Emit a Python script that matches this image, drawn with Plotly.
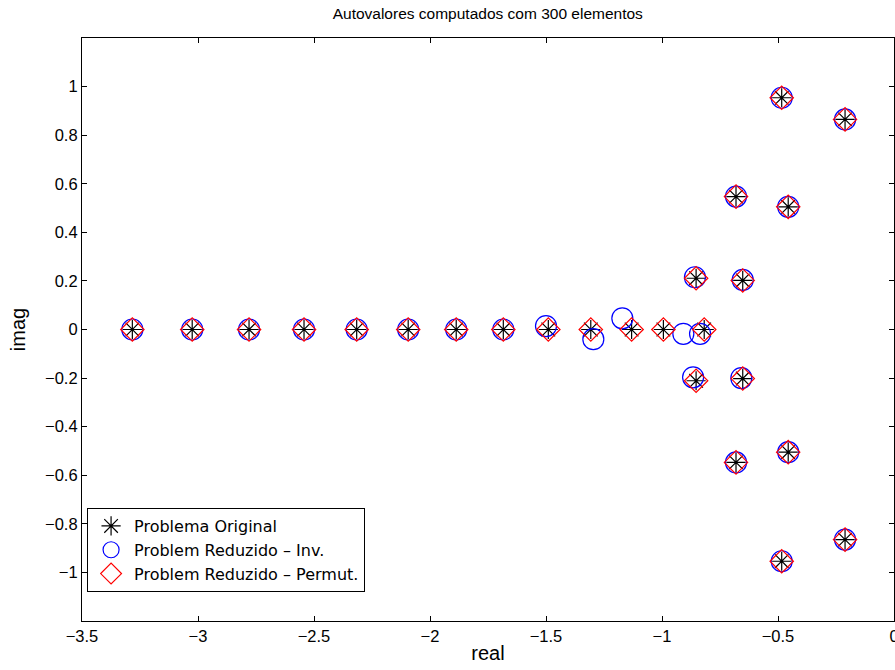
import plotly.graph_objects as go

# Problema Original (eigenvalues)
orig_real = [-3.283, -3.025, -2.780, -2.543, -2.316, -2.094, -1.887, -1.684,
             -1.490, -1.307, -1.131, -0.994, -0.818,
             -0.853, -0.853, -0.652, -0.652, -0.681, -0.681,
             -0.456, -0.456, -0.484, -0.484, -0.211, -0.211]
orig_imag = [0, 0, 0, 0, 0, 0, 0, 0,
             0, 0, 0, 0, 0,
             0.211, -0.211, 0.202, -0.202, 0.547, -0.547,
             0.505, -0.505, 0.954, -0.954, 0.865, -0.865]

# Problem Reduzido - Inv.
inv_real = [-3.283, -3.025, -2.780, -2.543, -2.316, -2.094, -1.887, -1.684,
            -1.500, -1.296, -1.171, -0.908, -0.836,
            -0.858, -0.866, -0.652, -0.658, -0.681, -0.681,
            -0.456, -0.456, -0.484, -0.484, -0.211, -0.211]
inv_imag = [0, 0, 0, 0, 0, 0, 0, 0,
            0.014, -0.040, 0.046, -0.018, -0.018,
            0.215, -0.197, 0.204, -0.200, 0.547, -0.547,
            0.505, -0.505, 0.954, -0.954, 0.865, -0.865]

# Problem Reduzido - Permut.
perm_real = [-3.283, -3.025, -2.780, -2.543, -2.316, -2.094, -1.887, -1.684,
             -1.490, -1.307, -1.131, -0.994, -0.818,
             -0.853, -0.853, -0.652, -0.652, -0.681, -0.681,
             -0.456, -0.456, -0.484, -0.484, -0.211, -0.211]
perm_imag = [0, 0, 0, 0, 0, 0, 0, 0,
             0, 0, 0, 0, 0,
             0.211, -0.211, 0.202, -0.202, 0.547, -0.547,
             0.505, -0.505, 0.954, -0.954, 0.865, -0.865]

x_ticks = [-3.5, -3, -2.5, -2, -1.5, -1, -0.5, 0]
y_ticks = [-1, -0.8, -0.6, -0.4, -0.2, 0, 0.2, 0.4, 0.6, 0.8, 1]

FONT = "Liberation Sans, Arial, Helvetica, sans-serif"
LEGEND_FONT = "DejaVu Sans, Liberation Sans, sans-serif"

fig = go.Figure()
fig.add_trace(go.Scatter(
    x=orig_real, y=orig_imag, mode="markers", name="Problema Original",
    marker=dict(symbol="asterisk-open", size=16, color="black",
                line=dict(color="black", width=1.2))))
fig.add_trace(go.Scatter(
    x=inv_real, y=inv_imag, mode="markers", name="Problem Reduzido – Inv.",
    marker=dict(symbol="circle-open", size=21, color="#0000ff",
                line=dict(color="#0000ff", width=1.2))))
fig.add_trace(go.Scatter(
    x=perm_real, y=perm_imag, mode="markers", name="Problem Reduzido – Permut.",
    marker=dict(symbol="diamond-open", size=18, color="#ff0000",
                line=dict(color="#ff0000", width=1.2))))

axis_common = dict(showline=True, linecolor="black", linewidth=1.2, mirror="ticks",
                   ticks="inside", ticklen=5, tickcolor="black", tickwidth=1,
                   showgrid=False, zeroline=False, ticklabeloverflow="allow",
                   automargin=False,
                   tickfont=dict(family=FONT, size=16.5, color="black"))

fig.update_layout(
    width=895, height=670,
    margin=dict(l=82, r=1, t=38, b=49),
    paper_bgcolor="white", plot_bgcolor="white",
    font=dict(family=FONT, color="black"),
    title=dict(text="Autovalores computados com 300 elementos",
               x=0.545, xanchor="center", y=1 - 14 / 670, yanchor="middle",
               font=dict(family=FONT, size=15.5, color="black")),
    xaxis=dict(range=[-3.5, 0], tickvals=x_ticks,
               title=dict(text="real", font=dict(family=FONT, size=20), standoff=2),
               **axis_common),
    yaxis=dict(range=[-1.2, 1.2], tickvals=y_ticks,
               title=dict(text="imag", font=dict(family=FONT, size=20), standoff=14),
               **axis_common),
    legend=dict(x=0.006, y=0.05, xanchor="left", yanchor="bottom",
                bgcolor="white", bordercolor="black", borderwidth=1.2,
                font=dict(family=LEGEND_FONT, size=16, color="black"),
                tracegroupgap=0, itemwidth=36),
    showlegend=True,
)

fig.write_html("out.html")
